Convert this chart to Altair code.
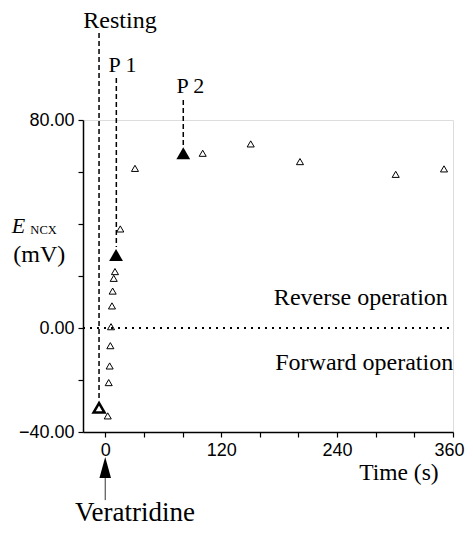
import altair as alt
import pandas as pd

# ---- data ----
open_t = [2.6, 3.6, 4.6, 5.3, 6.0, 7.0, 7.7, 8.8, 10.1, 15.6, 30.8, 100.9, 150.6, 201.6, 300.7, 350.7]
open_v = [-33.8, -21.0, -14.6, -6.8, 0.5, 8.5, 14.2, 19.1, 21.7, 38.1, 61.4, 67.2, 70.8, 64.0, 59.1, 61.2]

filled_t = [11.2, 80.8]          # P 1, P 2
filled_v = [28.1, 67.2]

resting_t = [-6.4]
resting_v = [-30.7]

# dashed marker lines (Resting, P 1, P 2)
dash_t = [-6.4, 11.5, 80.8]
dash_top = [113.5, 96.2, 87.7]
dash_bot = [-26.9, 31.2, 70.4]

# serif annotation texts
ann_text = ["Resting", "P 1", "P 2", "Reverse operation", "Forward operation", "Time (s)", "Veratridine", "(mV)"]
ann_t = [15.3, 17.9, 88.1, 264.6, 268.1, 304.0, 30.8, -68.3]
ann_v = [115.4, 98.6, 90.3, 8.8, -16.2, -58.5, -74.3, 25.4]
ann_size = [24, 22, 22, 24, 24, 23.5, 27, 24]

x_ticks = [0, 40, 80, 120, 160, 200, 240, 280, 320, 360]
y_ticks = [-40, -30, -20, -10, 0, 10, 20, 30, 40, 50, 60, 70, 80]
x_domain = [-23, 360]
y_domain = [-40, 80]

# ---- build tables ----
open_df = pd.DataFrame({"t": open_t, "v": open_v})
filled_df = pd.DataFrame({"t": filled_t, "v": filled_v})
rest_df = pd.DataFrame({"t": resting_t, "v": resting_v})
dash_df = pd.DataFrame({"t": dash_t, "top": dash_top, "bot": dash_bot})
ann_df = pd.DataFrame({"label": ann_text, "t": ann_t, "v": ann_v, "fs": ann_size})
zero_df = pd.DataFrame({"t1": [x_domain[0]], "t2": [x_domain[1]], "v": [0]})
e_df = pd.DataFrame({"label": ["E"], "t": [-96.8], "v": [36.4]})
sub_df = pd.DataFrame({"label": ["NCX"], "t": [-77.5], "v": [36.2]})
arrow_head_df = pd.DataFrame({"t": [0], "v": [-53.7]})
arrow_line_df = pd.DataFrame({"t": [0], "v1": [-57.7], "v2": [-66.2]})

xscale = alt.Scale(domain=x_domain, nice=False, zero=False)
yscale = alt.Scale(domain=y_domain, nice=False, zero=False)

xaxis = alt.Axis(values=x_ticks, labelExpr="datum.value % 120 === 0 ? datum.label : ''",
                 format="d", grid=False, tickSize=5, labelPadding=4, labelFlush=False,
                 labelOffset={"condition": {"test": "datum.value === 360", "value": -4}, "value": 0},
                 domainColor="black", domainWidth=1.5, tickColor="black", tickWidth=1.2,
                 labelFont="Liberation Sans", labelFontSize=18, labelColor="black")
yaxis = alt.Axis(values=y_ticks,
                 labelExpr="(datum.value === 80 || datum.value === 0 || datum.value === -40) ? format(datum.value, '.2f') : ''",
                 grid=False, tickSize=5, labelPadding=4, labelFlush=False,
                 domainColor="black", domainWidth=1.5, tickColor="black", tickWidth=1.2,
                 labelFont="Liberation Sans", labelFontSize=18, labelColor="black")

base_points = alt.Chart(open_df).mark_point(
    shape="triangle-up", filled=False, size=50, stroke="black", strokeWidth=1, opacity=1
).encode(
    x=alt.X("t:Q", scale=xscale, axis=xaxis, title=None),
    y=alt.Y("v:Q", scale=yscale, axis=yaxis, title=None),
)

zero_line = alt.Chart(zero_df).mark_rule(color="black", strokeWidth=2, strokeDash=[2, 5]).encode(
    x="t1:Q", x2="t2:Q", y="v:Q"
)

dash_lines = alt.Chart(dash_df).mark_rule(color="black", strokeWidth=1.5, strokeDash=[5, 3]).encode(
    x="t:Q", y="top:Q", y2="bot:Q"
)

filled_pts = alt.Chart(filled_df).mark_point(
    shape="triangle-up", filled=True, size=190, color="black", opacity=1
).encode(x="t:Q", y="v:Q")

rest_pt = alt.Chart(rest_df).mark_point(
    shape="triangle-up", filled=False, size=120, stroke="black", strokeWidth=2.5, opacity=1
).encode(x="t:Q", y="v:Q")

ann = alt.Chart(ann_df).mark_text(
    font="Liberation Serif", align="center", baseline="alphabetic", color="black"
).encode(x="t:Q", y="v:Q", text="label:N", size=alt.Size("fs:Q", scale=None, legend=None))

e_txt = alt.Chart(e_df).mark_text(
    font="Liberation Serif", fontStyle="italic", fontSize=22, align="left", baseline="alphabetic", color="black"
).encode(x="t:Q", y="v:Q", text="label:N")

sub_txt = alt.Chart(sub_df).mark_text(
    font="Liberation Serif", fontSize=12.5, align="left", baseline="alphabetic", color="black"
).encode(x="t:Q", y="v:Q", text="label:N")

arrow_line = alt.Chart(arrow_line_df).mark_rule(color="#333333", strokeWidth=1).encode(
    x="t:Q", y="v1:Q", y2="v2:Q"
)
arrow_head = alt.Chart(arrow_head_df).mark_point(
    shape="M0,-1L0.55,1L-0.55,1Z", filled=True, size=441, color="black", opacity=1
).encode(x="t:Q", y="v:Q")

chart = alt.layer(
    base_points, zero_line, dash_lines, filled_pts, rest_pt, ann, e_txt, sub_txt, arrow_line, arrow_head
).properties(
    width=370, height=312,
    autosize=alt.AutoSizeParams(type="none"),
    padding={"left": 75, "top": 112, "right": 12, "bottom": 96},
).configure_view(stroke=None).configure(background="white")

chart.save("out.html", embed_options={"renderer": "svg", "actions": False})
